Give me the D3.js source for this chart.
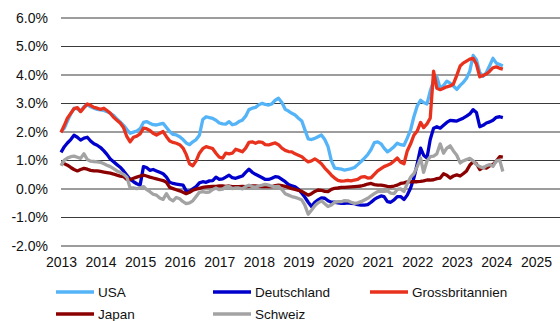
<!DOCTYPE html>
<html>
<head>
<meta charset="utf-8">
<script src="https://cdn.jsdelivr.net/npm/d3@7"></script>
<style>
  html, body { margin: 0; padding: 0; background: #fff; }
  svg { display: block; font-family: "Liberation Sans", Arial, sans-serif; }
</style>
</head>
<body>
<svg id="chart" width="560" height="321"></svg>
<script>
// Monthly 10-year yields in percent, January 2013 to March 2024
const firstMonth = [2013, 0];

const usa = [
  1.98, 2.10, 2.35, 2.60, 2.80, 2.78, 2.70, 2.85, 2.92, 2.85, 2.80, 2.76,
  2.74, 2.72, 2.68, 2.62, 2.55, 2.42, 2.32, 2.20, 2.05, 1.92, 1.96, 2.00,
  2.08, 2.30, 2.33, 2.27, 2.22, 2.21, 2.24, 2.27, 2.12, 1.98, 1.88, 1.86,
  1.80, 1.70, 1.58, 1.52, 1.62, 1.70, 1.85, 2.40, 2.50, 2.47, 2.44, 2.38,
  2.28, 2.25, 2.24, 2.33, 2.22, 2.25, 2.33, 2.38, 2.52, 2.75, 2.80, 2.83,
  2.92, 2.97, 2.93, 2.91, 2.95, 3.08, 3.15, 3.00, 2.76, 2.70, 2.62, 2.56,
  2.45, 2.35, 2.05, 1.72, 1.70, 1.74, 1.80, 1.86, 1.70, 1.45, 0.95, 0.70,
  0.68, 0.66, 0.63, 0.65, 0.68, 0.72, 0.82, 0.93, 1.05, 1.17, 1.35, 1.59,
  1.62, 1.55, 1.40, 1.27, 1.35, 1.45, 1.57, 1.52, 1.50, 1.75, 2.04, 2.50,
  2.88, 3.08, 3.00, 2.95, 3.40, 3.75, 3.90, 3.50, 3.60, 3.75, 3.68, 3.58,
  3.46, 3.60, 3.70, 3.85, 4.10, 4.65, 4.50, 4.05, 3.92, 4.05, 4.30, 4.55,
  4.38, 4.33, 4.28
];

const deutschland = [
  1.25, 1.45, 1.58, 1.70, 1.85, 1.78, 1.68, 1.75, 1.78, 1.65, 1.55, 1.50,
  1.42, 1.30, 1.18, 1.02, 0.92, 0.82, 0.73, 0.60, 0.45, 0.30, 0.22, 0.15,
  0.10, 0.75, 0.72, 0.62, 0.65, 0.60, 0.55, 0.50, 0.38, 0.20, 0.16, 0.14,
  0.12, 0.10, -0.10, -0.12, -0.03, 0.05, 0.18, 0.22, 0.20, 0.25, 0.26, 0.38,
  0.30, 0.32, 0.38, 0.45, 0.36, 0.34, 0.38, 0.42, 0.55, 0.66, 0.55, 0.48,
  0.42, 0.36, 0.30, 0.30, 0.34, 0.40, 0.38, 0.30, 0.22, 0.12, 0.08, 0.04,
  -0.05, -0.18, -0.32, -0.50, -0.65, -0.50, -0.42, -0.35, -0.36, -0.45, -0.50, -0.50,
  -0.52, -0.54, -0.54, -0.52, -0.54, -0.55, -0.58, -0.60, -0.60, -0.58, -0.50, -0.40,
  -0.33, -0.28, -0.30, -0.48, -0.50, -0.42, -0.30, -0.30, -0.40, -0.25, 0.00, 0.35,
  0.85, 1.40, 1.15, 1.05, 1.70, 2.10, 2.15, 2.10, 2.20, 2.30, 2.37, 2.36,
  2.35, 2.40, 2.45, 2.52, 2.60, 2.75, 2.65, 2.15, 2.20, 2.28, 2.32, 2.38,
  2.48, 2.50, 2.47
];

const grossbritannien = [
  1.95, 2.20, 2.45, 2.62, 2.78, 2.82, 2.68, 2.82, 2.95, 2.90, 2.83, 2.80,
  2.76, 2.80, 2.72, 2.62, 2.48, 2.38, 2.28, 2.12, 1.80, 1.62, 1.78, 1.82,
  1.90, 2.10, 2.08, 2.02, 1.92, 1.86, 1.92, 1.98, 1.80, 1.65, 1.60, 1.57,
  1.52, 1.40, 1.18, 0.85, 0.78, 0.95, 1.22, 1.38, 1.45, 1.42, 1.38, 1.22,
  1.08, 1.05, 1.22, 1.20, 1.22, 1.36, 1.32, 1.27, 1.40, 1.60, 1.62, 1.57,
  1.62, 1.60, 1.52, 1.51, 1.55, 1.58, 1.52, 1.40, 1.32, 1.28, 1.27, 1.20,
  1.15, 1.10, 1.00, 0.92, 0.95, 1.02, 0.95, 0.85, 0.70, 0.58, 0.45, 0.35,
  0.27, 0.24, 0.25, 0.27, 0.25, 0.28, 0.30, 0.38, 0.40, 0.35, 0.36, 0.48,
  0.60, 0.68, 0.75, 0.80, 0.85, 0.95, 1.05, 0.90, 0.85, 1.30, 1.55, 1.85,
  2.00, 2.30, 2.12, 2.25, 2.45, 4.10, 3.50, 3.45, 3.50, 3.55, 3.58, 3.65,
  3.95, 4.28, 4.38, 4.45, 4.52, 4.55, 4.35, 3.90, 3.95, 4.00, 4.10, 4.22,
  4.25, 4.20, 4.17
];

const japan = [
  0.88, 0.85, 0.80, 0.72, 0.65, 0.60, 0.65, 0.69, 0.66, 0.62, 0.60, 0.60,
  0.58, 0.56, 0.54, 0.52, 0.49, 0.45, 0.42, 0.40, 0.30, 0.30, 0.34, 0.38,
  0.42, 0.45, 0.42, 0.38, 0.35, 0.32, 0.29, 0.26, 0.20, 0.02, -0.02, -0.06,
  -0.10, -0.15, -0.20, -0.15, -0.08, -0.04, -0.01, 0.02, 0.04, 0.05, 0.06, 0.06,
  0.07, 0.07, 0.06, 0.07, 0.05, 0.05, 0.05, 0.06, 0.05, 0.06, 0.07, 0.07,
  0.06, 0.05, 0.05, 0.06, 0.05, 0.08, 0.10, 0.08, 0.06, 0.02, -0.02, -0.05,
  -0.08, -0.12, -0.18, -0.25, -0.20, -0.12, -0.07, -0.08, -0.12, -0.13, -0.05, -0.01,
  0.00, 0.02, 0.02, 0.03, 0.04, 0.05, 0.06, 0.07, 0.10, 0.14, 0.16, 0.12,
  0.10, 0.10, 0.08, 0.06, 0.05, 0.07, 0.10, 0.16, 0.18, 0.22, 0.22, 0.22,
  0.22, 0.23, 0.25, 0.28, 0.28, 0.29, 0.33, 0.35, 0.50, 0.45, 0.35, 0.42,
  0.46, 0.42, 0.50, 0.60, 0.80, 0.92, 0.85, 0.65, 0.72, 0.70, 0.78, 0.82,
  0.95, 1.10, 1.08
];

const schweiz = [
  0.78, 0.98, 1.05, 1.10, 1.12, 1.08, 1.04, 1.20, 1.00, 0.94, 0.93, 0.92,
  0.90, 0.85, 0.80, 0.75, 0.68, 0.60, 0.55, 0.48, 0.38, 0.00, 0.00, -0.02,
  0.00, 0.05, -0.05, -0.13, -0.22, -0.25, -0.35, -0.40, -0.20, -0.38, -0.45, -0.33,
  -0.38, -0.48, -0.55, -0.52, -0.45, -0.30, -0.15, -0.13, -0.15, -0.14, -0.05, 0.00,
  -0.06, -0.04, 0.04, 0.06, -0.02, 0.00, 0.00, -0.03, 0.05, 0.10, 0.05, 0.03,
  0.07, 0.10, 0.13, 0.10, 0.06, 0.05, 0.06, -0.05, -0.20, -0.25, -0.30, -0.33,
  -0.37, -0.42, -0.60, -0.92, -0.78, -0.62, -0.52, -0.45, -0.55, -0.65, -0.60, -0.50,
  -0.48, -0.48, -0.44, -0.45, -0.50, -0.54, -0.52, -0.48, -0.42, -0.36, -0.28, -0.20,
  -0.13, -0.12, -0.12, -0.10, -0.18, -0.20, -0.05, -0.03, -0.12, 0.15, 0.38, 0.50,
  0.75, 1.05, 0.55, 0.95, 1.10, 1.12, 1.20, 1.55, 1.22, 1.40, 1.48, 1.30,
  1.15, 0.88, 0.95, 1.00, 1.04, 0.95, 0.82, 0.75, 0.70, 0.78, 0.82, 0.76,
  0.95, 0.98, 0.58
];

const seriesNames = ["USA", "Deutschland", "Grossbritannien", "Japan", "Schweiz"];
const seriesValues = [usa, deutschland, grossbritannien, japan, schweiz];
const seriesColors = ["#55b4f7", "#0000cc", "#e8321e", "#8b0000", "#a3a3a3"];

const yTicks = [-2, -1, 0, 1, 2, 3, 4, 5, 6];
const xYears = [2013, 2014, 2015, 2016, 2017, 2018, 2019, 2020, 2021, 2022, 2023, 2024, 2025];

const svg = d3.select("#chart");
const W = 560;
const plot = { left: 61, right: 536, top: 17, bottom: 245 };

const x = d3.scaleTime()
  .domain([new Date(xYears[0], 0, 1), new Date(xYears[xYears.length - 1], 0, 1)])
  .range([plot.left, plot.right]);

const y = d3.scaleLinear()
  .domain([d3.min(yTicks), d3.max(yTicks)])
  .range([plot.bottom, plot.top]);

// Horizontal gridlines with percent labels
const yAxis = d3.axisLeft(y)
  .tickValues(yTicks)
  .tickSize(-(W - plot.left))
  .tickPadding(13)
  .tickFormat(v => v.toFixed(1) + "%");

const gy = svg.append("g")
  .attr("transform", `translate(${plot.left},0.5)`)
  .call(yAxis);
gy.select(".domain").remove();
gy.selectAll(".tick line").attr("stroke", "#3a3a3a").attr("stroke-width", 1);
gy.selectAll(".tick text")
  .attr("fill", "#111")
  .style("font-size", "14px")
  .attr("dy", "0.34em");

// Year labels along the bottom
const xAxis = d3.axisBottom(x)
  .tickValues(xYears.map(yr => new Date(yr, 0, 1)))
  .tickSize(0)
  .tickPadding(12)
  .tickFormat(d3.timeFormat("%Y"));

const gx = svg.append("g")
  .attr("transform", `translate(0,${plot.bottom})`)
  .call(xAxis);
gx.select(".domain").remove();
gx.selectAll(".tick text")
  .attr("fill", "#111")
  .style("font-size", "14px");

// Yield lines
const dateOf = i => new Date(firstMonth[0], firstMonth[1] + i, 1);
const line = d3.line()
  .x((d, i) => x(dateOf(i)))
  .y(d => y(d));

svg.append("g")
  .selectAll("path")
  .data(seriesValues)
  .join("path")
  .attr("fill", "none")
  .attr("stroke", (d, i) => seriesColors[i])
  .attr("stroke-width", 3.3)
  .attr("stroke-linejoin", "round")
  .attr("stroke-linecap", "butt")
  .attr("d", line);

// Legend: three columns, two rows
const legendCols = [56, 213, 370];
const legendRows = [292, 314];
const legend = svg.append("g")
  .selectAll("g")
  .data(seriesNames)
  .join("g")
  .attr("transform", (d, i) => `translate(${legendCols[i % 3]},${legendRows[Math.floor(i / 3)]})`);

legend.append("line")
  .attr("x1", 0).attr("x2", 38)
  .attr("y1", 0).attr("y2", 0)
  .attr("stroke", (d, i) => seriesColors[i])
  .attr("stroke-width", 3.3);

legend.append("text")
  .attr("x", 42)
  .attr("dy", "0.36em")
  .attr("fill", "#111")
  .style("font-size", "13.5px")
  .text(d => d);
</script>
</body>
</html>
